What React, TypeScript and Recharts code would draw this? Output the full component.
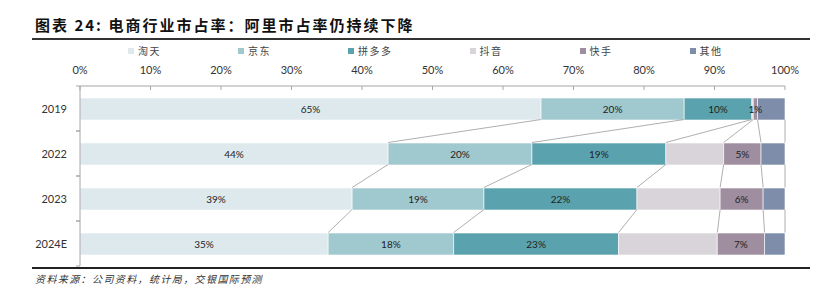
import { BarChart, Bar, XAxis, YAxis, LabelList, ReferenceLine } from "recharts";

const years = ["2019", "2022", "2023", "2024E"];
const taobao = [65.4, 43.7, 38.6, 35.2];
const jd = [20.3, 20.4, 18.7, 17.8];
const pdd = [9.6, 19.0, 21.7, 23.4];
const douyin = [0.2, 8.2, 11.8, 14.0];
const kuaishou = [0.6, 5.3, 6.1, 6.7];
const others = [3.9, 3.4, 3.1, 2.9];

const taobaoLabels = ["65%", "44%", "39%", "35%"];
const jdLabels = ["20%", "20%", "19%", "18%"];
const pddLabels = ["10%", "19%", "22%", "23%"];
const kuaishouLabels = ["1%", "5%", "6%", "7%"];

const xTicks = [0, 10, 20, 30, 40, 50, 60, 70, 80, 90, 100];

const series = [
  { key: "taobao", name: "淘天", color: "#dde9ed", values: taobao, labels: taobaoLabels },
  { key: "jd", name: "京东", color: "#a0c8cf", values: jd, labels: jdLabels },
  { key: "pdd", name: "拼多多", color: "#5aa2ad", values: pdd, labels: pddLabels },
  { key: "douyin", name: "抖音", color: "#d9d4da", values: douyin, labels: null },
  { key: "kuaishou", name: "快手", color: "#9e8e9f", values: kuaishou, labels: kuaishouLabels },
  { key: "others", name: "其他", color: "#7e8da9", values: others, labels: null },
];

const data = years.map((year, i) => {
  const row: any = { year };
  series.forEach((s) => {
    row[s.key] = s.values[i];
    row[s.key + "Label"] = s.labels ? s.labels[i] : "";
  });
  return row;
});

// cumulative right edges for the connector lines between bars
const cumulative = years.map((_, i) => {
  let sum = 0;
  return series.map((s) => (sum += s.values[i]));
});

const BAR = 22;
const CJK = '"Noto Sans CJK SC", sans-serif';
const NUM = 'Lato, "Noto Sans CJK SC", sans-serif';

const XTick = ({ x, y, payload }: any) => (
  <g>
    <line x1={x} y1={y} x2={x} y2={y + 4} stroke="#a6a6a6" />
    <text x={x} y={y - 12} textAnchor="middle" fontSize={11} fill="#333" fontFamily={NUM}>
      {payload.value}%
    </text>
  </g>
);

const YTick = ({ x, y, payload }: any) => (
  <g>
    <line x1={x - 4} y1={y - 22.5} x2={x} y2={y - 22.5} stroke="#a6a6a6" />
    <line x1={x - 4} y1={y + 22.5} x2={x} y2={y + 22.5} stroke="#a6a6a6" />
    <text x={x - 13} y={y} dy={4} textAnchor="end" fontSize={11} fill="#333" fontFamily={NUM}>
      {payload.value}
    </text>
  </g>
);

const Connector = ({ x1, y1, x2, y2 }: any) => (
  <line x1={x1} y1={y1 + BAR / 2} x2={x2} y2={y2 - BAR / 2} stroke="#a6a6a6" strokeWidth={0.9} />
);

export default function App() {
  return (
    <div
      style={{
        position: "absolute",
        left: 0,
        top: 0,
        width: 814,
        height: 290,
        background: "#fff",
      }}
    >
      <div
        style={{
          position: "absolute",
          left: 35,
          top: 15,
          fontFamily: CJK,
          fontWeight: 700,
          fontSize: 15,
          letterSpacing: 2,
          lineHeight: "20px",
          color: "#111",
          whiteSpace: "nowrap",
        }}
      >
        图表 24: 电商行业市占率：阿里市占率仍持续下降
      </div>
      <div style={{ position: "absolute", left: 32, top: 38, width: 778, height: 1.5, background: "#333" }} />

      <div
        style={{
          position: "absolute",
          left: 128,
          top: 44,
          display: "flex",
          gap: 77,
          fontFamily: CJK,
          fontSize: 10,
          letterSpacing: 1.5,
          color: "#444",
          lineHeight: "14px",
          whiteSpace: "nowrap",
        }}
      >
        {series.map((s) => (
          <div key={s.key} style={{ display: "flex", alignItems: "center" }}>
            <span style={{ width: 6, height: 6, background: s.color, marginRight: 4 }} />
            <span>{s.name}</span>
          </div>
        ))}
      </div>

      <div style={{ position: "absolute", left: 0, top: 0 }}>
        <BarChart
          width={814}
          height={290}
          data={data}
          layout="vertical"
          margin={{ top: 56, right: 29, bottom: 24, left: 0 }}
          barSize={BAR}
        >
          <XAxis
            type="number"
            orientation="top"
            domain={[0, 100]}
            ticks={xTicks}
            height={30}
            tickSize={0}
            tickMargin={0}
            axisLine={{ stroke: "#a6a6a6" }}
            tickLine={false}
            tick={<XTick />}
            interval={0}
          />
          <YAxis
            type="category"
            dataKey="year"
            width={80}
            tickSize={0}
            tickMargin={0}
            axisLine={{ stroke: "#a6a6a6" }}
            tickLine={false}
            tick={<YTick />}
          />
          {years.slice(0, -1).map((year, i) =>
            cumulative[i].map((c, k) => (
              <ReferenceLine
                key={year + "-" + k}
                segment={[
                  { x: c, y: year },
                  { x: cumulative[i + 1][k], y: years[i + 1] },
                ]}
                shape={<Connector />}
              />
            ))
          )}
          {series.map((s) => (
            <Bar
              key={s.key}
              dataKey={s.key}
              name={s.name}
              stackId="share"
              fill={s.color}
              stroke="#ffffff"
              strokeWidth={0.6}
              isAnimationActive={false}
            >
              {s.labels && (
                <LabelList
                  dataKey={s.key + "Label"}
                  position="center"
                  fontSize={10}
                  fill="#222"
                  fontFamily={NUM}
                />
              )}
            </Bar>
          ))}
        </BarChart>
      </div>

      <div style={{ position: "absolute", left: 32, top: 267, width: 778, height: 1.5, background: "#222" }} />
      <div
        style={{
          position: "absolute",
          left: 35,
          top: 272,
          fontFamily: CJK,
          fontStyle: "italic",
          fontSize: 10,
          letterSpacing: 1.4,
          color: "#333",
          lineHeight: "14px",
          whiteSpace: "nowrap",
        }}
      >
        资料来源：公司资料，统计局，交银国际预测
      </div>
    </div>
  );
}
